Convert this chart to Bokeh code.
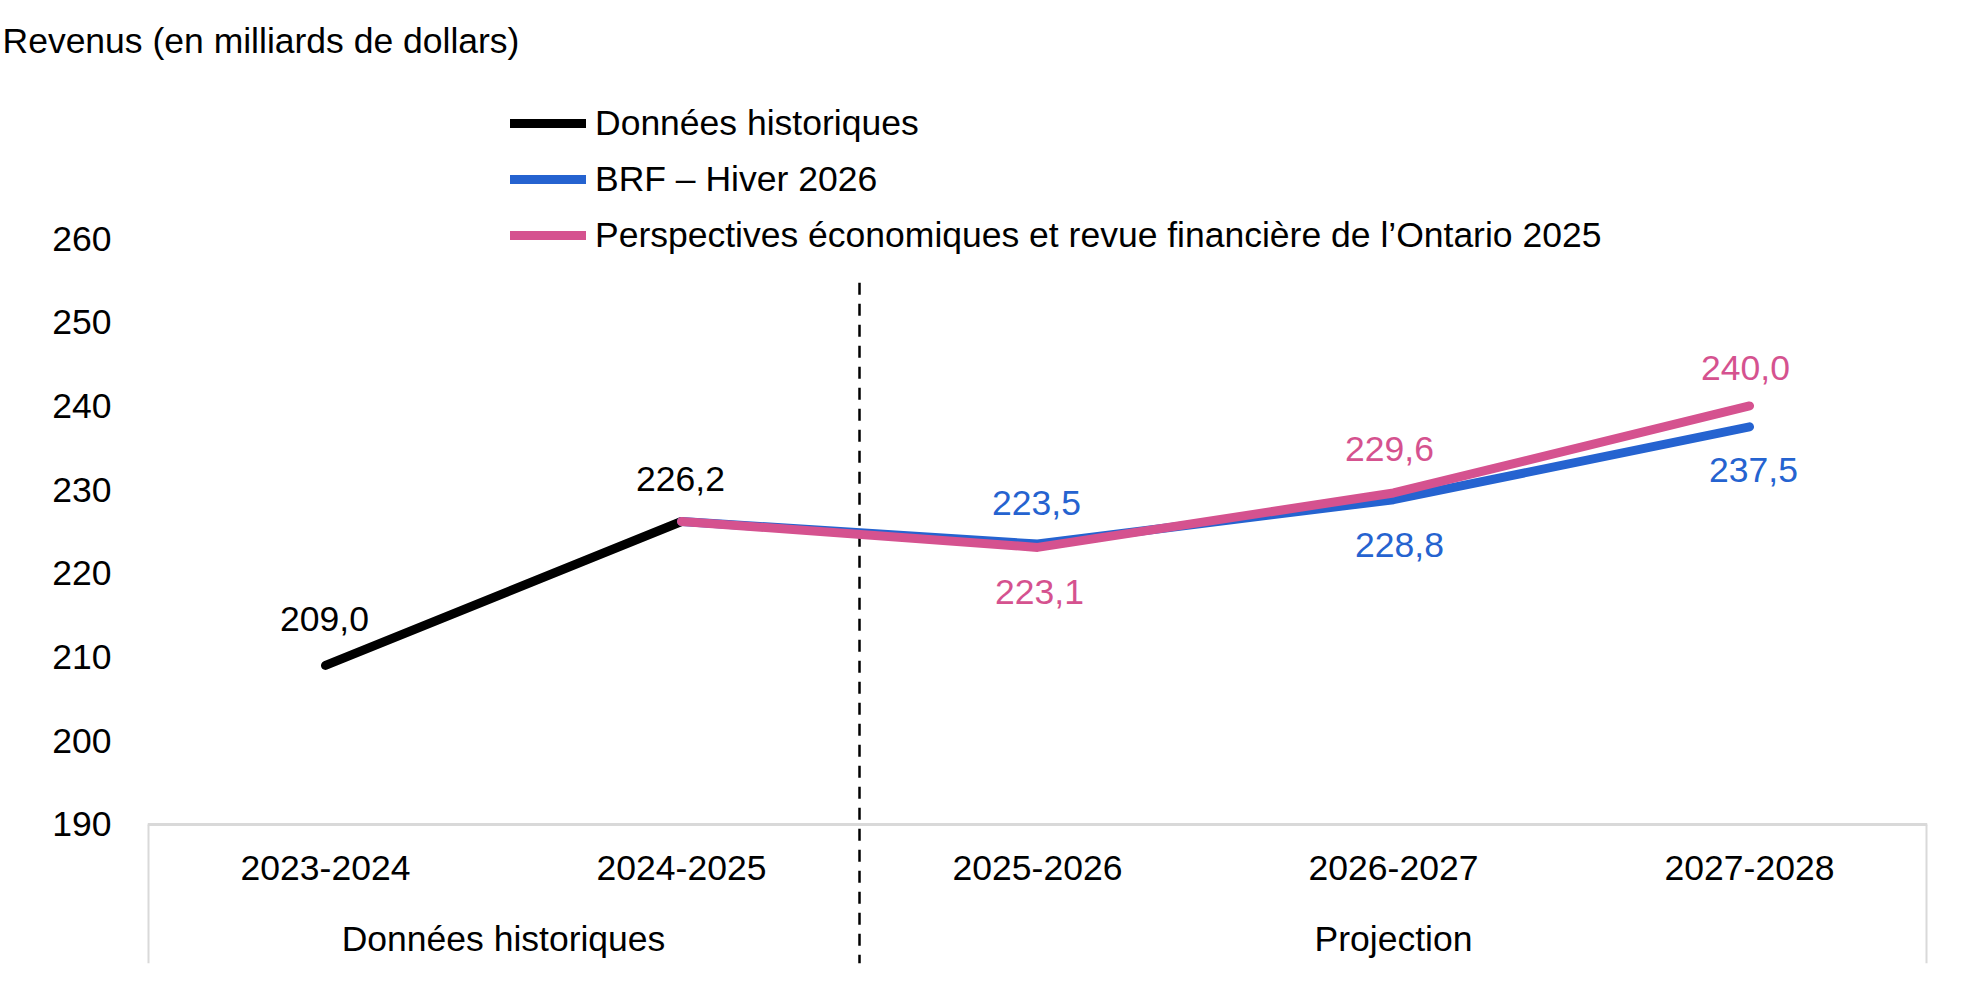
from bokeh.plotting import figure
from bokeh.models import Range1d, FixedTicker, LinearAxis, Legend, LegendItem, ColumnDataSource
from bokeh.core.properties import value
from bokeh.embed import file_html
from bokeh.resources import INLINE

# ---------------- data ----------------
categories = ["2023-2024", "2024-2025", "2025-2026", "2026-2027", "2027-2028"]
groups = ["Données historiques", "Projection"]
group_sizes = [2, 3]

hist_categories = ["2023-2024", "2024-2025"]
hist_values = [209.0, 226.2]

proj_categories = ["2024-2025", "2025-2026", "2026-2027", "2027-2028"]
brf_values = [226.2, 223.5, 228.8, 237.5]
ontario_values = [226.2, 223.1, 229.6, 240.0]

y_ticks = [190, 200, 210, 220, 230, 240, 250, 260]

series_names = [
    "Données historiques",
    "BRF – Hiver 2026",
    "Perspectives économiques et revue financière de l’Ontario 2025",
]
title_text = "Revenus (en milliards de dollars)"

# ---------------- style ----------------
FONT = "Liberation Sans"
FS = "35.5px"
BLACK = "#000000"
BLUE = "#2563D0"
PINK = "#D5528F"
GRAY = "#D9D9D9"

FIG_W, FIG_H = 1951, 976
LEFT, RIGHT, BOTTOM, TOP = 147, 24, 13, 65
PX_PER_UNIT = 8.371
Y_START = 190 - (963 - 824) / PX_PER_UNIT
Y_END = 260 + (238 - TOP) / PX_PER_UNIT
LW = 9


def xpos(cat):
    return categories.index(cat) + 0.5


def fmt(v):
    return f"{v:.1f}".replace(".", ",")


p = figure(
    width=FIG_W, height=FIG_H,
    x_range=Range1d(0, len(categories)), y_range=Range1d(Y_START, Y_END),
    output_backend="svg", toolbar_location=None,
    min_border_left=LEFT, min_border_right=RIGHT, min_border_bottom=BOTTOM, min_border_top=TOP,
)
p.outline_line_color = None
p.xgrid.visible = False
p.ygrid.visible = False
p.background_fill_color = "white"
p.border_fill_color = "white"

# title
p.title.text = title_text
p.title.align = "left"
p.title.offset = -145
p.title.text_font = FONT
p.title.text_font_size = FS
p.title.text_font_style = "normal"
p.title.text_color = BLACK

# y axis
ya = p.yaxis[0]
ya.ticker = FixedTicker(ticks=y_ticks, minor_ticks=[])
ya.axis_line_color = None
ya.major_tick_line_color = None
ya.minor_tick_line_color = None
ya.major_tick_out = 0
ya.major_tick_in = 0
ya.major_label_standoff = 36
ya.major_label_text_font = FONT
ya.major_label_text_font_size = FS
ya.major_label_text_color = BLACK

# x axis with category labels, drawn at y = 190
xa = p.xaxis[0]
xa.ticker = FixedTicker(ticks=[xpos(c) for c in categories], minor_ticks=[])
xa.major_label_overrides = {xpos(c): c for c in categories}
xa.fixed_location = y_ticks[0]
xa.axis_line_color = GRAY
xa.axis_line_width = 3
xa.major_tick_line_color = None
xa.minor_tick_line_color = None
xa.major_tick_out = 0
xa.major_tick_in = 0
xa.major_label_standoff = 32
xa.major_label_text_font = FONT
xa.major_label_text_font_size = FS
xa.major_label_text_color = BLACK

# group labels axis
centers = []
start = 0
for n in group_sizes:
    centers.append(start + n / 2)
    start += n
ga = LinearAxis(
    ticker=FixedTicker(ticks=centers, minor_ticks=[]),
    major_label_overrides={c: g for c, g in zip(centers, groups)},
    fixed_location=y_ticks[0],
    axis_line_color=None, major_tick_line_color=None, minor_tick_line_color=None,
    major_tick_out=0, major_tick_in=0,
    major_label_standoff=95,
    major_label_text_font=FONT, major_label_text_font_size=FS, major_label_text_color=BLACK,
)
p.add_layout(ga, "below")

# boundary lines
edges = [0, len(categories)]
p.segment(x0=edges, y0=[y_ticks[0]] * 2, x1=edges, y1=[Y_START] * 2,
          line_color=GRAY, line_width=4)
split = group_sizes[0]
p.segment(x0=[split], y0=[254.7], x1=[split], y1=[Y_START],
          line_color=BLACK, line_width=2.5, line_dash="12 9")

# series lines
r_hist = p.line([xpos(c) for c in hist_categories], hist_values,
                line_color=BLACK, line_width=LW, line_cap="round", line_join="round")
r_brf = p.line([xpos(c) for c in proj_categories], brf_values,
               line_color=BLUE, line_width=LW, line_cap="round", line_join="round")
r_ont = p.line([xpos(c) for c in proj_categories], ontario_values,
               line_color=PINK, line_width=LW, line_cap="round", line_join="round")

# data labels
lx, ly, lt, lc, xo, yo = [], [], [], [], [], []
hist_place = [(-1, -46), (-1, -42)]
for c, v, (dx, dy) in zip(hist_categories, hist_values, hist_place):
    lx.append(xpos(c)); ly.append(v); lt.append(fmt(v)); lc.append(BLACK); xo.append(dx); yo.append(dy)
brf_place = [None, (-1, -41), (6, 45), (4, 43)]
ont_place = [None, (2, 45), (-4, -44), (-4, -38)]
for vals, place, col in ((brf_values, brf_place, BLUE), (ontario_values, ont_place, PINK)):
    for c, v, pl in zip(proj_categories, vals, place):
        if pl is None:
            continue
        lx.append(xpos(c)); ly.append(v); lt.append(fmt(v)); lc.append(col); xo.append(pl[0]); yo.append(pl[1])
src = ColumnDataSource(dict(x=lx, y=ly, t=lt, c=lc, xo=xo, yo=yo))
p.text(x="x", y="y", text="t", text_color="c", x_offset="xo", y_offset="yo", source=src,
       text_align="center", text_baseline="middle",
       text_font=value(FONT), text_font_size=FS)

# legend
legend = Legend(
    items=[LegendItem(label=series_names[0], renderers=[r_hist]),
           LegendItem(label=series_names[1], renderers=[r_brf]),
           LegendItem(label=series_names[2], renderers=[r_ont])],
    location=(363, 707),
    orientation="vertical",
    glyph_width=76, glyph_height=42, label_height=42, spacing=14,
    padding=0, margin=0, label_standoff=9,
    border_line_alpha=0, background_fill_alpha=0,
    label_text_font=FONT, label_text_font_size=FS, label_text_color=BLACK,
)
p.add_layout(legend, "center")

open("out.html", "w").write(file_html(p, INLINE))
